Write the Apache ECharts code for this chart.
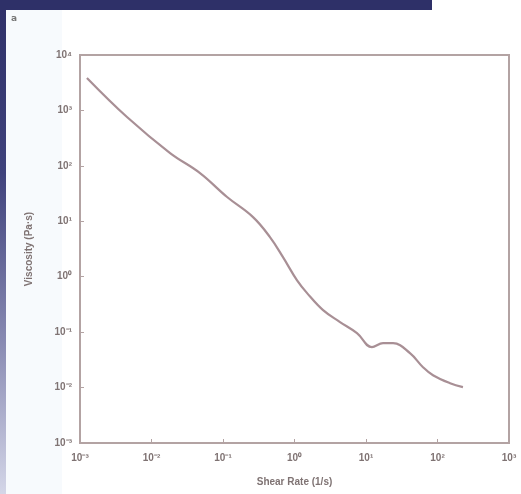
<!DOCTYPE html>
<html><head><meta charset="utf-8">
<script src="https://cdn.jsdelivr.net/npm/echarts@6/dist/echarts.min.js"></script>
<style>html,body{margin:0;padding:0;background:#fff}#c{width:521px;height:494px}</style>
</head><body><div id="c"></div>
<script>
const shearRate = [0.00125,0.00454,0.0182,0.0477,0.114,0.263,0.454,0.69,1.08,1.5,2.51,4.33,7.48,12.1,17.3,23.9,41.2,62.7,86.5,150,227];
const viscosity = [3850,760,170,74,27.4,11.9,5.19,2.26,0.869,0.506,0.249,0.152,0.096,0.0536,0.0632,0.0632,0.0418,0.0233,0.0167,0.0120,0.0102];
const xTitle = 'Shear Rate (1/s)';
const yTitle = 'Viscosity (Pa·s)';
const panelLabel = 'a';

const sup = {'-':'⁻','0':'⁰','1':'¹','2':'²','3':'³','4':'⁴','5':'⁵','6':'⁶','7':'⁷','8':'⁸','9':'⁹'};
function fmt(v){const e=Math.round(Math.log10(v));return '10'+String(e).split('').map(c=>sup[c]).join('');}
const data = shearRate.map((x,i)=>[x,viscosity[i]]);
const chart = echarts.init(document.getElementById('c'),null,{renderer:'canvas'});
const axisCol='#b3a3a3';
const txtCol='#7f7373';
chart.setOption({
  backgroundColor:'#ffffff',
  animation:false,
  graphic:[
    {type:'rect',left:0,top:0,shape:{width:6,height:494},style:{fill:new echarts.graphic.LinearGradient(0,0,0,1,[{offset:0,color:'#2e3068'},{offset:0.35,color:'#3f427c'},{offset:0.7,color:'#8a8cb4'},{offset:1,color:'#d4d6e8'}])}},
    {type:'rect',left:0,top:0,shape:{width:432,height:10},style:{fill:'#2e3068'}},
    {type:'rect',left:6,top:10,shape:{width:56,height:484},style:{fill:'#f7fafd'}},
    {type:'text',left:11,top:14,style:{text:panelLabel,fill:'#777',font:'bold 9px "DejaVu Sans"'}}
  ],
  grid:{left:80,right:12,top:55,bottom:51,show:true,borderColor:axisCol,borderWidth:2},
  xAxis:{type:'log',logBase:10,min:0.001,max:1000,name:xTitle,nameLocation:'middle',nameGap:34,
    nameTextStyle:{color:txtCol,fontSize:10,fontWeight:'bold',fontFamily:'Liberation Sans'},
    axisLine:{lineStyle:{color:axisCol,width:2}},axisTick:{inside:true,length:4,lineStyle:{color:axisCol}},
    axisLabel:{formatter:fmt,color:txtCol,fontSize:10,fontWeight:'bold',fontFamily:'Liberation Sans',margin:10},
    splitLine:{show:false},minorTick:{show:false}},
  yAxis:{type:'log',logBase:10,min:0.001,max:10000,name:yTitle,nameLocation:'middle',nameGap:46,
    nameTextStyle:{color:txtCol,fontSize:10,fontWeight:'bold',fontFamily:'Liberation Sans'},
    axisLine:{lineStyle:{color:axisCol,width:2}},axisTick:{inside:true,length:4,lineStyle:{color:axisCol}},
    axisLabel:{formatter:fmt,color:txtCol,fontSize:10,fontWeight:'bold',fontFamily:'Liberation Sans',margin:8},
    splitLine:{show:false}},
  series:[{type:'line',data:data,smooth:0.4,showSymbol:false,lineStyle:{color:'#a88f95',width:2.2}}]
});
</script></body></html>
